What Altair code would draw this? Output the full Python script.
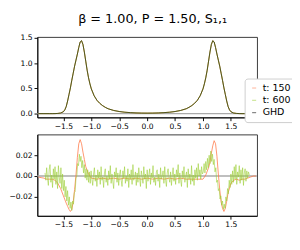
import altair as alt
import pandas as pd

series_names = ["t: 150", "t: 600", "GHD"]
series_colors = ["#ff7f50", "#9acd32", "#000000"]

x_ticks = [-1.5, -1.0, -0.5, 0.0, 0.5, 1.0, 1.5]
top_y_ticks = [0.0, 0.5, 1.0, 1.5]
bot_y_ticks = [-0.02, 0.0, 0.02]

# top panel: density profile
top_x = [-1.95, -1.85, -1.75, -1.7, -1.65, -1.6, -1.55, -1.5, -1.475, -1.45, -1.425, -1.4,
         -1.375, -1.35, -1.325, -1.3, -1.275, -1.25, -1.225, -1.2, -1.175, -1.15, -1.125,
         -1.1, -1.075, -1.05, -1.025, -1.0, -0.95, -0.9, -0.85, -0.8, -0.75, -0.7, -0.6,
         -0.5, -0.4, -0.3, -0.2, -0.1, 0.0, 0.1, 0.2, 0.3, 0.4, 0.5, 0.6, 0.7, 0.75, 0.8,
         0.85, 0.9, 0.95, 1.0, 1.025, 1.05, 1.075, 1.1, 1.125, 1.15, 1.175, 1.2, 1.225,
         1.25, 1.275, 1.3, 1.325, 1.35, 1.375, 1.4, 1.425, 1.45, 1.475, 1.5, 1.55, 1.6,
         1.65, 1.7, 1.75, 1.85, 1.95]
top_y = [0.0, 0.0, 0.0, 0.0, 0.001, 0.004, 0.012, 0.038, 0.075, 0.14, 0.25, 0.38,
         0.51, 0.66, 0.80, 0.94, 1.06, 1.18, 1.31, 1.42, 1.445, 1.37, 1.22,
         1.04, 0.86, 0.71, 0.59, 0.49, 0.355, 0.265, 0.205, 0.16, 0.125, 0.097, 0.063,
         0.042, 0.028, 0.020, 0.014, 0.011, 0.010, 0.011, 0.014, 0.020, 0.028, 0.042, 0.063, 0.097, 0.125, 0.16,
         0.205, 0.265, 0.355, 0.49, 0.59, 0.71, 0.86, 1.04, 1.22, 1.37, 1.445, 1.42, 1.31,
         1.18, 1.06, 0.94, 0.80, 0.66, 0.51, 0.38, 0.25, 0.14, 0.075, 0.038, 0.012, 0.004,
         0.001, 0.0, 0.0, 0.0, 0.0]

# bottom panel: deviation from GHD
t150_x = [-1.95, -1.9, -1.85, -1.8, -1.75, -1.7, -1.65, -1.6, -1.55, -1.5, -1.45, -1.425,
          -1.4, -1.375, -1.35, -1.325, -1.3, -1.275, -1.25, -1.225, -1.2, -1.175, -1.15,
          -1.125, -1.1, -1.05, -1.0, -0.9, -0.8, -0.7, -0.6, -0.5, -0.4, -0.3, -0.2, -0.1,
          0.0, 0.1, 0.2, 0.3, 0.4, 0.5, 0.6, 0.7, 0.8, 0.9, 1.0, 1.05, 1.1, 1.125, 1.15,
          1.175, 1.2, 1.225, 1.25, 1.275, 1.3, 1.325, 1.35, 1.375, 1.4, 1.425, 1.45, 1.5,
          1.55, 1.6, 1.65, 1.7, 1.75, 1.8, 1.85, 1.9, 1.95]
t150_dev = [-0.001, -0.0015, -0.002, -0.003, -0.003, -0.003, -0.004, -0.007, -0.012, -0.019,
            -0.026, -0.029, -0.032, -0.034, -0.032, -0.025, -0.013, 0.001, 0.018, 0.031,
            0.035, 0.031, 0.023, 0.016, 0.009, 0.002, -0.002, -0.003, -0.002, -0.003,
            -0.002, -0.003, -0.002, -0.003, -0.002, -0.003, -0.002, -0.003, -0.002, -0.003,
            -0.002, -0.003, -0.002, -0.003, -0.003, -0.003, -0.003, 0.001, 0.008, 0.013,
            0.022, 0.029, 0.034, 0.031, 0.019, 0.002, -0.013, -0.025, -0.031, -0.034,
            -0.031, -0.024, -0.016, -0.007, -0.004, -0.003, -0.004, -0.003, -0.003, -0.002,
            -0.001, 0.0, 0.0]

# t: 600 deviation, sampled every 0.015 from -1.83 to 1.83
t600_start = -1.83
t600_step = 0.015
t600_dev = [
    # -1.83 .. -1.545
    0.003, -0.004, 0.008, -0.002, -0.009, 0.006, 0.011, -0.006, 0.001, -0.011,
    0.007, -0.003, 0.009, -0.008, 0.004, -0.012, 0.010, -0.001, -0.007, 0.008,
    # -1.53 .. -1.29
    -0.012, 0.002, -0.014, -0.004, -0.020, -0.010, -0.024, -0.014, -0.028, -0.020,
    -0.031, -0.025, -0.033, -0.024, -0.027, -0.016, -0.015,
    # -1.275 .. -1.02
    -0.002, 0.000, 0.012, 0.010, 0.021, 0.014, 0.019, 0.008, 0.015, 0.003,
    0.011, -0.002, 0.007, -0.004, 0.006, -0.006, 0.004, -0.007,
    # -1.005 .. 0.99
    0.005, -0.003, -0.009, 0.002, 0.008, -0.005, 0.001, -0.010, 0.006, -0.002,
    0.004, -0.008, 0.009, -0.004, -0.001, -0.011, 0.003, 0.007, -0.006, 0.000,
    -0.009, 0.005, -0.003, 0.010, -0.007, 0.002, -0.005, -0.012, 0.004, -0.001,
    0.008, -0.006, 0.003, -0.009, 0.001, 0.006, -0.004, -0.010, 0.005, -0.002,
    0.009, -0.007, 0.000, -0.005, 0.007, -0.011, 0.002, -0.003, 0.006, -0.008,
    0.011, -0.004, -0.001, 0.004, -0.009, 0.003, -0.006, 0.008, -0.002, -0.010,
    0.005, 0.000, -0.007, 0.009, -0.003, 0.002, -0.012, 0.006, -0.005, 0.001,
    0.007, -0.008, 0.003, -0.002, 0.010, -0.006, -0.001, -0.009, 0.004, 0.006,
    -0.005, 0.002, -0.011, 0.008, -0.003, 0.000, 0.005, -0.007, 0.009, -0.004,
    -0.010, 0.003, 0.007, -0.002, -0.006, 0.004, -0.009, 0.001, 0.008, -0.005,
    0.002, -0.008, 0.006, -0.001, 0.011, -0.007, 0.003, -0.004, -0.010, 0.005,
    -0.002, 0.009, -0.006, 0.000, 0.004, -0.011, 0.007, -0.003, 0.002, -0.008,
    0.010, -0.005, 0.001, -0.009, 0.006, -0.002, 0.008, -0.004, 0.012, 0.000,
    0.006, -0.003, 0.009, 0.002,
    # 1.005 .. 1.26
    0.004, 0.012, 0.003, 0.014, 0.006, 0.017, 0.008, 0.020, 0.012, 0.024,
    0.014, 0.021, 0.011, 0.016, 0.004, 0.008, -0.006, -0.004,
    # 1.275 .. 1.53
    -0.014, -0.012, -0.022, -0.019, -0.028, -0.024, -0.032, -0.027, -0.031, -0.020,
    -0.024, -0.012, -0.017, -0.004, -0.011, 0.002, -0.008, 0.005,
    # 1.545 .. 1.83
    -0.006, 0.009, -0.003, 0.011, -0.008, 0.004, -0.001, 0.010, -0.007, 0.006,
    -0.004, 0.008, -0.009, 0.003, 0.007, -0.005, 0.005, -0.002, 0.004, 0.001,
]
t600_x = [round(t600_start + t600_step * i, 4) for i in range(len(t600_dev))]

FONT = "DejaVu Sans"
x_scale = alt.Scale(domain=[-1.967, 1.967], nice=False, zero=False)
color_scale = alt.Scale(domain=series_names, range=series_colors)
legend = alt.Legend(
    title=None, orient="none", legendX=219, legendY=44,
    fillColor="white", strokeColor="#cccccc", cornerRadius=3, padding=5,
    labelFont=FONT, labelFontSize=10, labelColor="black",
    symbolType="stroke", symbolSize=18, symbolStrokeWidth=1.2, symbolOpacity=0.5,
    rowPadding=3, labelOffset=4,
)

x_axis = alt.Axis(values=x_ticks, format=".1f", title=None)
top_y_axis = alt.Axis(values=top_y_ticks, format=".1f", title=None)
bot_y_axis = alt.Axis(values=bot_y_ticks, format=".2f", title=None)

top_df = pd.DataFrame({"x": top_x, "y": top_y})
zero_df = pd.DataFrame({"y": [0.0]})

top_scale = alt.Scale(domain=[-0.074, 1.52], nice=False, zero=False)
top_layers = [
    alt.Chart(zero_df).mark_rule(color="#aaaaaa", strokeWidth=1.5).encode(
        y=alt.Y("y:Q", scale=top_scale, axis=top_y_axis)),
]
for name, op in [("t: 150", 0.8), ("t: 600", 0.8), ("GHD", 0.6)]:
    top_layers.append(
        alt.Chart(top_df.assign(series=name)).mark_line(strokeWidth=1, opacity=op, clip=True).encode(
            x=alt.X("x:Q", scale=x_scale, axis=x_axis),
            y=alt.Y("y:Q", scale=top_scale, axis=top_y_axis),
            color=alt.Color("series:N", scale=color_scale, legend=legend),
        )
    )
top = alt.layer(*top_layers).properties(width=232, height=85)

bot_scale = alt.Scale(domain=[-0.0382, 0.040], nice=False, zero=False)
df150 = pd.DataFrame({"x": t150_x, "y": t150_dev, "series": "t: 150"})
df600 = pd.DataFrame({"x": t600_x, "y": t600_dev, "series": "t: 600"})
bot_layers = [
    alt.Chart(zero_df).mark_rule(color="#aaaaaa", strokeWidth=1.5).encode(
        y=alt.Y("y:Q", scale=bot_scale, axis=bot_y_axis)),
    alt.Chart(df150).mark_line(strokeWidth=1, opacity=0.85, clip=True).encode(
        x=alt.X("x:Q", scale=x_scale, axis=x_axis),
        y=alt.Y("y:Q", scale=bot_scale, axis=bot_y_axis),
        color=alt.Color("series:N", scale=color_scale, legend=None),
    ),
    alt.Chart(df600).mark_line(strokeWidth=1, opacity=0.6, clip=True).encode(
        x=alt.X("x:Q", scale=x_scale, axis=x_axis),
        y=alt.Y("y:Q", scale=bot_scale, axis=bot_y_axis),
        color=alt.Color("series:N", scale=color_scale, legend=None),
    ),
]
bottom = alt.layer(*bot_layers).properties(width=232, height=86)

chart = alt.vconcat(top, bottom, spacing=3).resolve_legend(color="independent").properties(
    title=alt.TitleParams("β = 1.00, P = 1.50,  S₁,₁", font=FONT, fontSize=13.5,
                          fontWeight="normal", anchor="middle", color="black", offset=9),
    padding={"left": 0, "top": -2, "right": -5, "bottom": 5},
).configure_axis(
    grid=False, domainColor="black", tickColor="black", tickSize=3.5, domainWidth=1,
    labelFont=FONT, labelFontSize=8, labelColor="black", labelPadding=2,
).configure_view(stroke="#333333", strokeWidth=1).configure_legend(
    orient="none"
)

chart.save("out.html", embed_options={"renderer": "svg", "actions": False})
